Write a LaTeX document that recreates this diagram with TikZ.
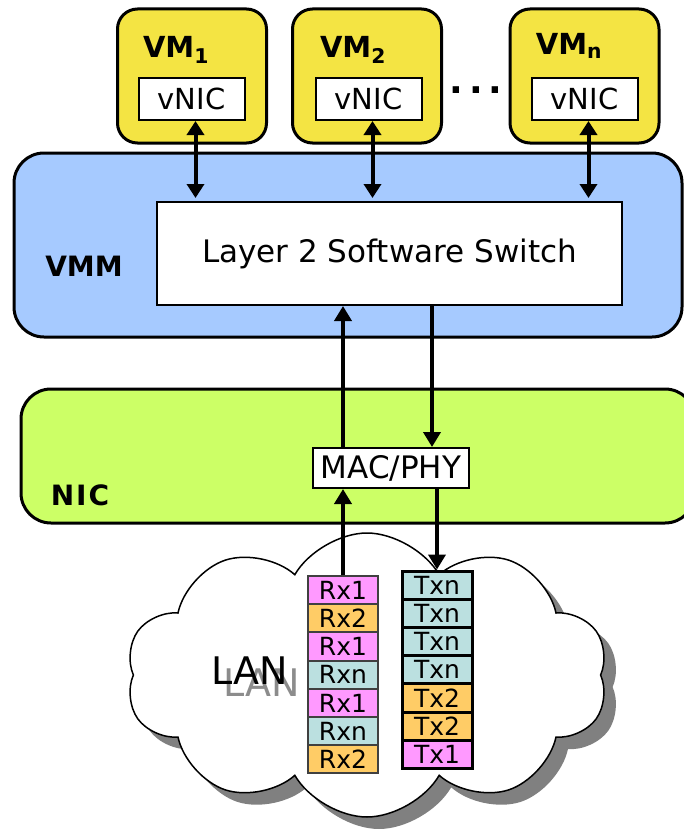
\documentclass[tikz,border=0pt]{standalone}
\usepackage{fontspec}
\setmainfont{DejaVu Sans}
\usetikzlibrary{arrows.meta,shapes.symbols,shadows}
\definecolor{vmyellow}{HTML}{F4E443}
\definecolor{vmmblue}{HTML}{A6CAFF}
\definecolor{nicgreen}{HTML}{CCFF66}
\definecolor{qpink}{HTML}{FF99FF}
\definecolor{qorange}{HTML}{FFCC66}
\definecolor{qteal}{HTML}{BBE0E0}
\definecolor{cloudshade}{HTML}{808080}
\begin{document}
\begin{tikzpicture}[x=1pt,y=-1pt,
    vmbox/.style={draw, line width=3pt, rounded corners=20pt, fill=vmyellow, minimum width=149pt, minimum height=134pt},
    vnicbox/.style={draw, line width=2pt, fill=white, minimum width=106pt, minimum height=42pt, inner sep=0pt, font=\fontsize{29}{29}\selectfont},
    vmlabel/.style={font=\fontsize{29}{29}\selectfont\bfseries},
    layerbox/.style={draw, line width=3pt, rounded corners=30pt},
    layerlabel/.style={font=\fontsize{28}{28}\selectfont\bfseries},
    rxcell/.style={draw=black!75, line width=2pt, fill=#1, minimum width=70pt, minimum height=28.2pt, inner sep=0pt, font=\fontsize{25}{25}\selectfont},
    txcell/.style={draw, line width=3pt, fill=#1, minimum width=70pt, minimum height=28.2pt, inner sep=0pt, font=\fontsize{25}{25}\selectfont},
    flow/.style={line width=4.5pt, -{Triangle[width=17pt,length=15pt]}},
    vmlink/.style={line width=4pt, {Triangle[width=17pt,length=14pt]}-{Triangle[width=17pt,length=14pt]}}]
\useasboundingbox (0,0) rectangle (684,832);

\node (vm1) at (192,76) [vmbox] {};
\node (vm2) at (367,76) [vmbox] {};
\node (vmn) at (584.5,76) [vmbox] {};
\node (vm1lbl) at (176,50) [vmlabel] {VM\textsubscript{1}};
\node (vm2lbl) at (353,50) [vmlabel] {VM\textsubscript{2}};
\node (vmnlbl) at (569,46) [vmlabel] {VM\textsubscript{n}};
\node (vnic1) at (191.5,99) [vnicbox] {vNIC};
\node (vnic2) at (368.5,99) [vnicbox] {vNIC};
\node (vnicn) at (584.5,99) [vnicbox] {vNIC};
\node (dots) at (476,90) [font=\fontsize{36}{36}\selectfont\bfseries] {.\,.\,.};

\node (vmm) at (348,245) [layerbox, fill=vmmblue, minimum width=668pt, minimum height=184pt] {};
\node (vmmlbl) at (84,266) [layerlabel] {VMM};
\node (switch) at (389.5,253.5) [draw, line width=2pt, fill=white, minimum width=465pt, minimum height=103pt, font=\fontsize{31}{31}\selectfont] {Layer 2 Software Switch};

\node (nic) at (358,456) [layerbox, fill=nicgreen, minimum width=674pt, minimum height=134pt] {};
\node (niclbl) at (80,495) [layerlabel] {N\kern2pt I\kern2pt C};
\node (macphy) at (391,468) [draw, line width=2pt, fill=white, minimum width=156pt, minimum height=40pt, inner sep=0pt, font=\fontsize{31}{31}\selectfont] {MAC/PHY};

\node (lan) at (367,675) [cloud, cloud puffs=10, cloud puff arc=120, cloud ignores aspect, draw, line width=1.5pt, fill=white, minimum width=482pt, minimum height=284pt, drop shadow={shadow xshift=12pt, shadow yshift=-12pt, fill=cloudshade, opacity=1}] {};
\node (langhost) at (262,683) [text=black!45, font=\fontsize{38}{38}\selectfont] {LAN};
\node (lantxt) at (250,671) [font=\fontsize{38}{38}\selectfont] {LAN};

\node (rx1) at (343,590.1) [rxcell=qpink] {Rx1};
\node (rx2) at (343,618.3) [rxcell=qorange] {Rx2};
\node (rx3) at (343,646.5) [rxcell=qpink] {Rx1};
\node (rx4) at (343,674.7) [rxcell=qteal] {Rxn};
\node (rx5) at (343,702.9) [rxcell=qpink] {Rx1};
\node (rx6) at (343,731.1) [rxcell=qteal] {Rxn};
\node (rx7) at (343,759.3) [rxcell=qorange] {Rx2};

\node (tx1) at (437,585.1) [txcell=qteal] {Txn};
\node (tx2) at (437,613.3) [txcell=qteal] {Txn};
\node (tx3) at (437,641.5) [txcell=qteal] {Txn};
\node (tx4) at (437,669.7) [txcell=qteal] {Txn};
\node (tx5) at (437,697.9) [txcell=qorange] {Tx2};
\node (tx6) at (437,726.1) [txcell=qorange] {Tx2};
\node (tx7) at (437,754.3) [txcell=qpink] {Tx1};

\draw [vmlink] ([xshift=4pt]vnic1.south) -- ([xshift=4pt,yshift=3pt]vnic1.south |- switch.north);
\draw [vmlink] ([xshift=4pt]vnic2.south) -- ([xshift=4pt,yshift=3pt]vnic2.south |- switch.north);
\draw [vmlink] ([xshift=4pt]vnicn.south) -- ([xshift=4pt,yshift=3pt]vnicn.south |- switch.north);

\draw [flow] ([xshift=-48pt]macphy.north) -- ([xshift=-48pt]macphy.north |- switch.south);
\draw [flow] ([xshift=41pt]macphy.north |- switch.south) -- ([xshift=41pt]macphy.north);
\draw [flow] (rx1.north) -- (rx1.north |- macphy.south);
\draw [flow] (tx1.north |- macphy.south) -- (tx1.north);
\end{tikzpicture}
\end{document}
